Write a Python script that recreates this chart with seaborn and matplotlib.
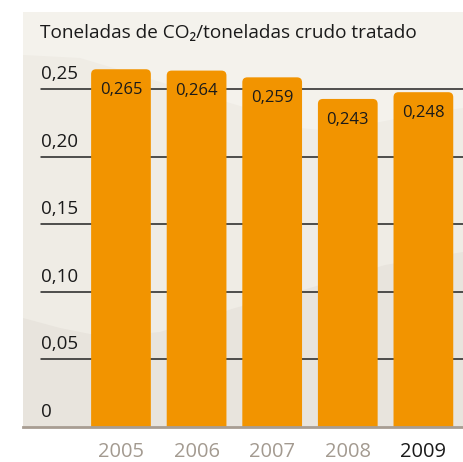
import numpy as np
import pandas as pd
import matplotlib.pyplot as plt
import seaborn as sns
from matplotlib.patches import FancyBboxPatch, Polygon
import matplotlib.transforms as mtransforms

# datos
anios = ['2005', '2006', '2007', '2008', '2009']
valores = [0.265, 0.264, 0.259, 0.243, 0.248]
etiquetas = ['0,265', '0,264', '0,259', '0,243', '0,248']
ticks_y = [0, 0.05, 0.10, 0.15, 0.20, 0.25]
ticks_y_txt = ['0', '0,05', '0,10', '0,15', '0,20', '0,25']
titulo = 'Toneladas de CO\u2082/toneladas crudo tratado'

sns.set_style('white')
plt.rcParams['font.family'] = ['Open Sans', 'DejaVu Sans']

W, H = 463, 462
fig = plt.figure(figsize=(W / 100, H / 100), dpi=100)
fig.patch.set_facecolor('white')

# panel: x 23..463 px, y 12..427 px
ax = fig.add_axes([23 / W, (H - 427) / H, 440 / W, 415 / H])
ax.set_facecolor('#efece5')

df = pd.DataFrame({'anio': anios, 'valor': valores})
naranja = '#f29400'
sns.barplot(data=df, x='anio', y='valor', color=naranja, width=0.79,
            saturation=1, ax=ax, zorder=3)

ax.set_xlim(-1.296, 4.524)
ax.set_ylim(0, 0.3074)

# fondo ondulado (decorativo)
def curva(pts):
    return np.array([((px - 23) / 440, (427 - py) / 415) for px, py in pts])

arriba = curva([(23, 55), (80, 58), (147, 78), (200, 94), (260, 112), (300, 128),
                (330, 131), (380, 122), (420, 114), (463, 108)])
poly_top = np.vstack([arriba, [[1, 1.05], [0, 1.05]]])
ax.add_patch(Polygon(poly_top, closed=True, transform=ax.transAxes,
                     facecolor='#f4f2ec', edgecolor='none', zorder=0))
abajo = curva([(23, 318), (60, 328), (90, 334), (120, 336), (160, 332), (235, 308),
               (310, 288), (385, 265), (463, 252)])
poly_bot = np.vstack([abajo, [[1, -0.05], [0, -0.05]]])
ax.add_patch(Polygon(poly_bot, closed=True, transform=ax.transAxes,
                     facecolor='#e8e4dd', edgecolor='none', zorder=0))

# barras con esquinas redondeadas
for p in list(ax.patches):
    if isinstance(p, Polygon):
        continue
    x0, w, h = p.get_x(), p.get_width(), p.get_height()
    p.set_visible(False)
    ax.add_patch(FancyBboxPatch((x0, -0.01), w, h + 0.01,
                                boxstyle='round,pad=0,rounding_size=0.066',
                                mutation_aspect=0.056, facecolor=naranja,
                                edgecolor='none', zorder=3))

# lineas de la cuadricula
for v in ticks_y[1:]:
    ax.axhline(v, xmin=18 / 440, xmax=1, color='#222222', lw=1.1, zorder=1)

# etiquetas eje y
tr = mtransforms.blended_transform_factory(ax.transAxes, ax.transData)
for v, t in zip(ticks_y, ticks_y_txt):
    ax.annotate(t, (18 / 440, v), xycoords=tr, xytext=(0, 4.5),
                textcoords='offset points', ha='left', va='bottom',
                fontsize=13.5, color='#1a1a1a')

# valores dentro de las barras
for i, (v, t) in enumerate(zip(valores, etiquetas)):
    ax.annotate(t, (i, v), xytext=(0, -15), textcoords='offset points',
                ha='center', va='center', fontsize=12, color='#1a1a1a', zorder=4)

ax.set_yticks([])
ax.set_xticks(range(len(anios)))
ax.set_xticklabels(anios, fontsize=14.5)
for lbl in ax.get_xticklabels():
    lbl.set_color('#1a1a1a' if lbl.get_text() == '2009' else '#a39a90')
ax.tick_params(axis='x', length=0, pad=11)
ax.set_xlabel('')
ax.set_ylabel('')

for s in ['top', 'left', 'right']:
    ax.spines[s].set_visible(False)
ax.spines['bottom'].set_color('#a89d92')
ax.spines['bottom'].set_linewidth(2)
ax.spines['bottom'].set_zorder(5)

fig.text(40 / W, (H - 38) / H, titulo, fontsize=13.7, color='#1a1a1a',
         ha='left', va='baseline')

fig.savefig('out.png', dpi=100)
